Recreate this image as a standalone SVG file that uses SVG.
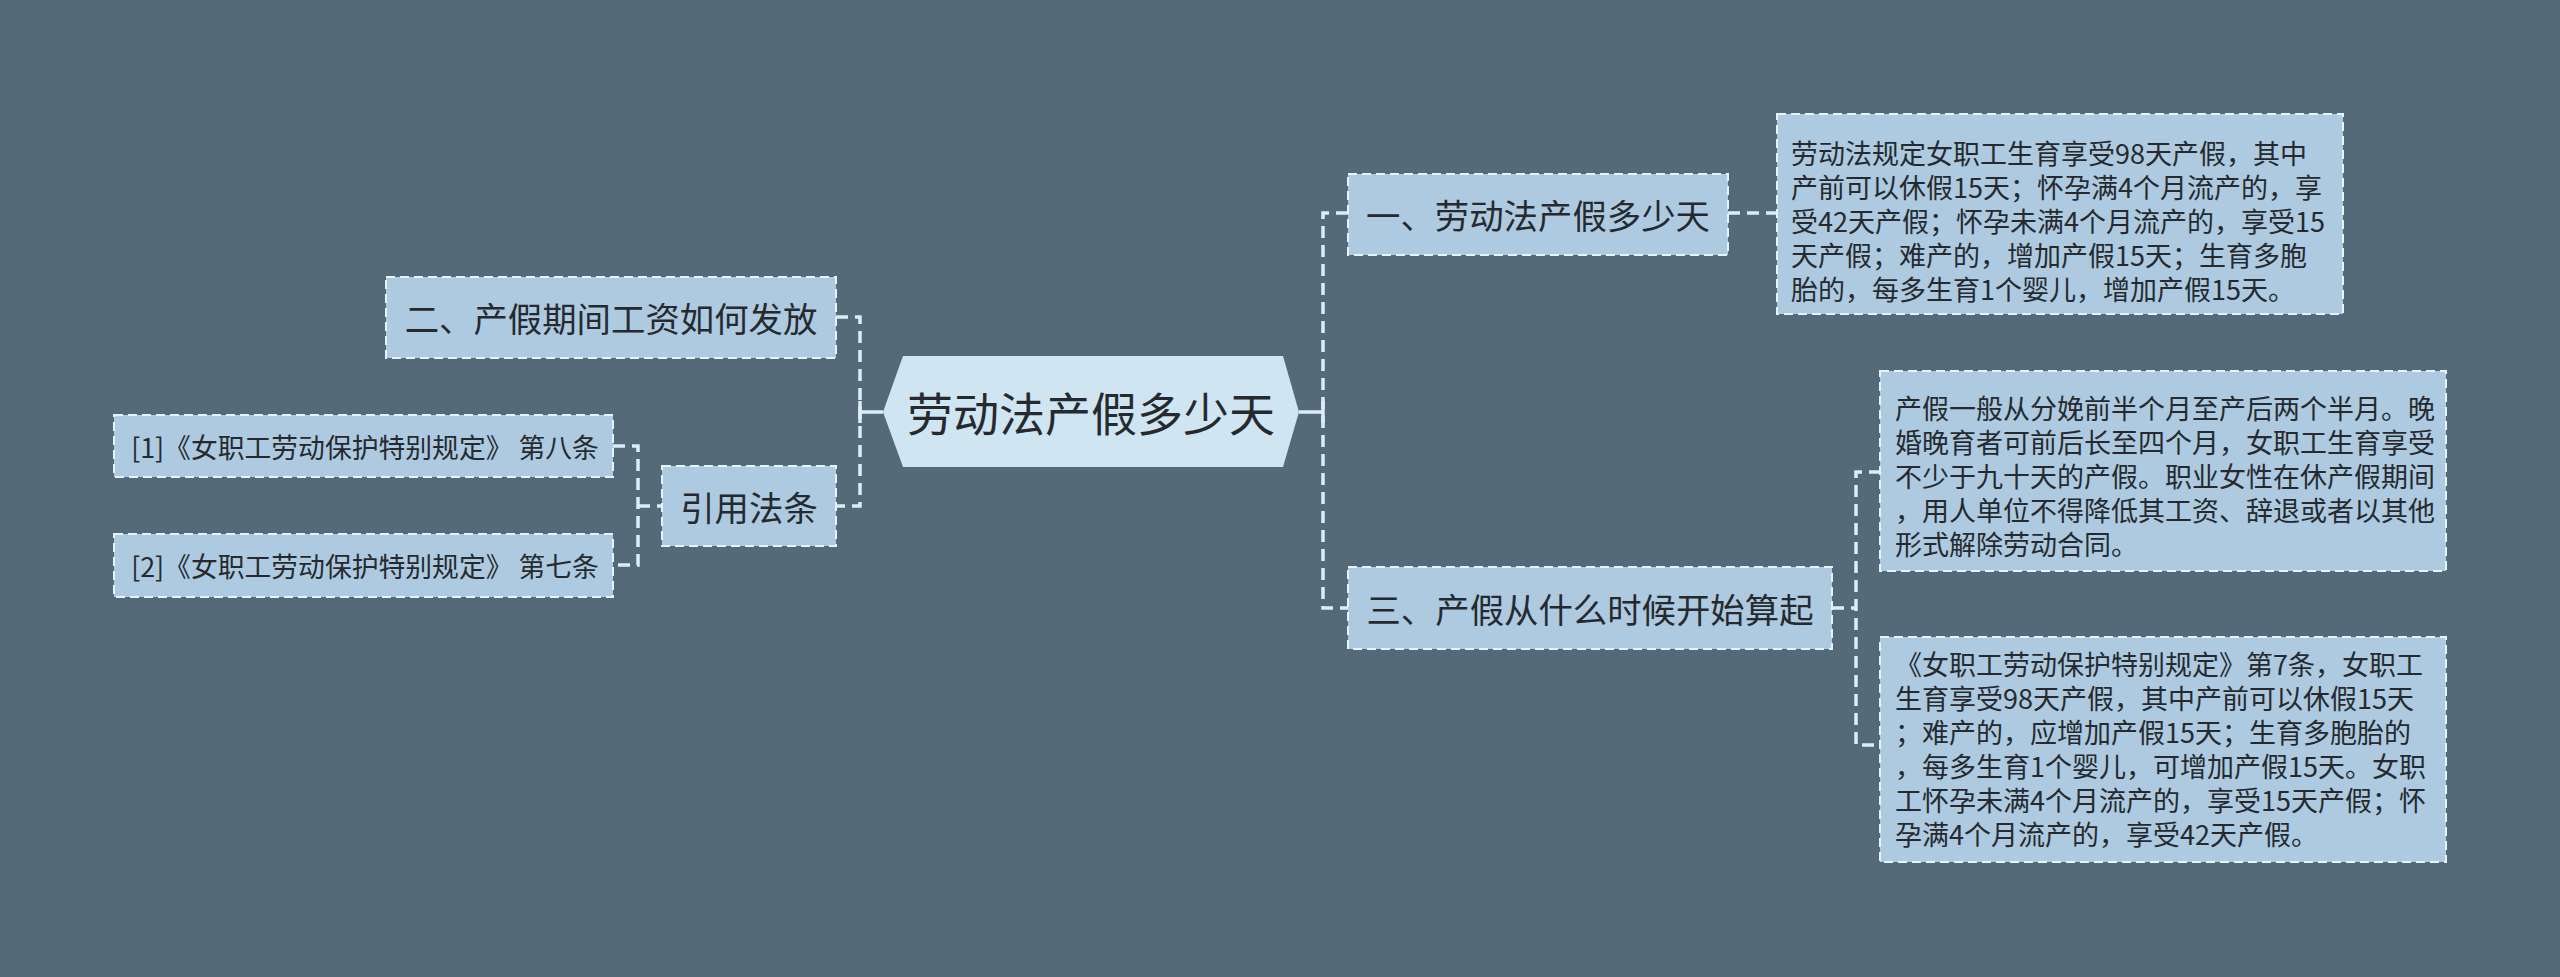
<svg xmlns="http://www.w3.org/2000/svg" width="2560" height="977" viewBox="0 0 2560 977">
<style>
.bg{fill:#546a79}
.box{fill:#adcae1;stroke:#e6f3fa;stroke-width:2;stroke-dasharray:9 5}
.hex{fill:#cfe5f2}
.t{font-family:"Noto Sans CJK SC","Microsoft YaHei",sans-serif;fill:#262a2e;dominant-baseline:central}
.main{font-size:34.4px;text-anchor:middle}
.ctr{font-size:46px;text-anchor:middle}
.ref{font-size:26.8px;text-anchor:middle}
.par{font-size:27px}
.dash{fill:none;stroke:#dcedf6;stroke-width:3.5;stroke-dasharray:12 7}
.solid{fill:none;stroke:#dcedf6;stroke-width:3.5}
</style>
<rect class="bg" x="0" y="0" width="2560" height="977"/>
<g id="connectors">
<path class="dash" d="M836,317 H860 V506 H836"/>
<path class="solid" d="M860,412 H883 M860,401 V423"/>
<path class="dash" d="M613,446 H638 V565 H613"/>
<path class="dash" d="M638,506 H662"/>
<path class="solid" d="M1299,412 H1323 M1323,401 V423"/>
<path class="dash" d="M1348,213 H1323 V608 H1348"/>
<path class="dash" d="M1728,213 H1777"/>
<path class="dash" d="M1881,472 H1856 V745 H1881"/>
<path class="dash" d="M1832,608 H1856"/>
</g>
<g id="center">
<polygon class="hex" points="883,412 903,356 1283,356 1299,412 1283,467 903,467"/>
<text class="t ctr" x="1091" y="411">劳动法产假多少天</text>
</g>
<g id="n2">
<rect class="box" x="386" y="277" width="450" height="81"/>
<text class="t main" x="611" y="317">二、产假期间工资如何发放</text>
</g>
<g id="nref">
<rect class="box" x="662" y="466" width="174" height="80"/>
<text class="t main" x="749" y="506">引用法条</text>
</g>
<g id="ref1">
<rect class="box" x="114" y="415" width="499" height="62"/>
<text class="t ref" x="365" y="446">[1]《女职工劳动保护特别规定》 第八条</text>
</g>
<g id="ref2">
<rect class="box" x="114" y="534" width="499" height="63"/>
<text class="t ref" x="365" y="565">[2]《女职工劳动保护特别规定》 第七条</text>
</g>
<g id="n1">
<rect class="box" x="1348" y="174" width="380" height="81"/>
<text class="t main" x="1538" y="214">一、劳动法产假多少天</text>
</g>
<g id="p1">
<rect class="box" x="1777" y="114" width="566" height="200"/>
<text class="t par" x="1791" y="152">劳动法规定女职工生育享受98天产假，其中</text>
<text class="t par" x="1791" y="186">产前可以休假15天；怀孕满4个月流产的，享</text>
<text class="t par" x="1791" y="220">受42天产假；怀孕未满4个月流产的，享受15</text>
<text class="t par" x="1791" y="254">天产假；难产的，增加产假15天；生育多胞</text>
<text class="t par" x="1791" y="288">胎的，每多生育1个婴儿，增加产假15天。</text>
</g>
<g id="n3">
<rect class="box" x="1348" y="567" width="484" height="82"/>
<text class="t main" x="1590" y="608">三、产假从什么时候开始算起</text>
</g>
<g id="p2">
<rect class="box" x="1880" y="371" width="566" height="200"/>
<text class="t par" x="1895" y="407">产假一般从分娩前半个月至产后两个半月。晚</text>
<text class="t par" x="1895" y="441">婚晚育者可前后长至四个月，女职工生育享受</text>
<text class="t par" x="1895" y="475">不少于九十天的产假。职业女性在休产假期间</text>
<text class="t par" x="1895" y="509">，用人单位不得降低其工资、辞退或者以其他</text>
<text class="t par" x="1895" y="543">形式解除劳动合同。</text>
</g>
<g id="p3">
<rect class="box" x="1880" y="637" width="566" height="225"/>
<text class="t par" x="1895" y="663">《女职工劳动保护特别规定》第7条，女职工</text>
<text class="t par" x="1895" y="697">生育享受98天产假，其中产前可以休假15天</text>
<text class="t par" x="1895" y="731">；难产的，应增加产假15天；生育多胞胎的</text>
<text class="t par" x="1895" y="765">，每多生育1个婴儿，可增加产假15天。女职</text>
<text class="t par" x="1895" y="799">工怀孕未满4个月流产的，享受15天产假；怀</text>
<text class="t par" x="1895" y="833">孕满4个月流产的，享受42天产假。</text>
</g>
</svg>
